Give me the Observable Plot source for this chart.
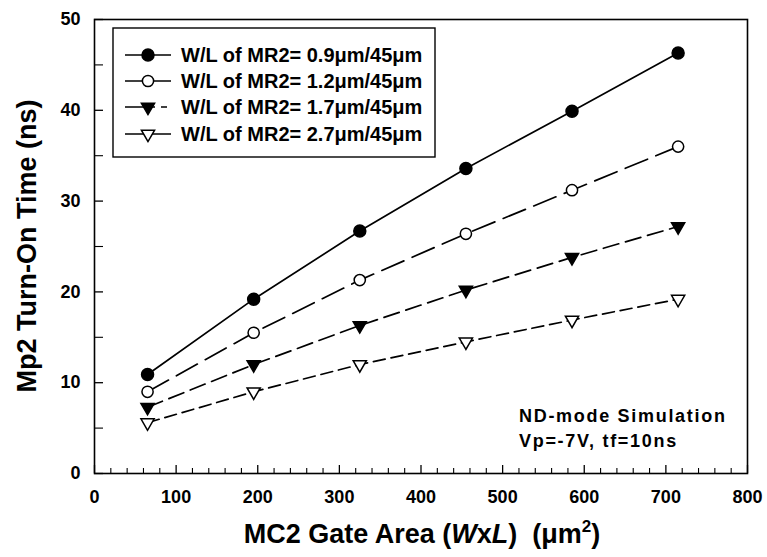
<!DOCTYPE html>
<html><head><meta charset="utf-8">
<script src="https://cdn.jsdelivr.net/npm/d3@7"></script>
<script src="https://cdn.jsdelivr.net/npm/@observablehq/plot@0.6"></script>
<style>body{margin:0;background:#fff}</style>
</head><body><div id="chart"></div>
<script>
// ---- data ----
const gateArea = [65, 195, 325, 455, 585, 715];
const seriesNames = [
  "W/L of MR2= 0.9\u03bcm/45\u03bcm",
  "W/L of MR2= 1.2\u03bcm/45\u03bcm",
  "W/L of MR2= 1.7\u03bcm/45\u03bcm",
  "W/L of MR2= 2.7\u03bcm/45\u03bcm"
];
const turnOn09 = [10.9, 19.2, 26.7, 33.6, 39.9, 46.3];
const turnOn12 = [9.0, 15.5, 21.3, 26.4, 31.2, 36.0];
const turnOn17 = [7.3, 12.0, 16.3, 20.2, 23.8, 27.2];
const turnOn27 = [5.6, 9.0, 12.0, 14.5, 16.9, 19.2];
const xTicks = [0, 100, 200, 300, 400, 500, 600, 700, 800];
const yTicks = [0, 10, 20, 30, 40, 50];
const annotation = ["ND-mode Simulation", "Vp=-7V, tf=10ns"];

// ---- styles ----
const W = 767, H = 557;
const mL = 94, mR = 20, mT = 19, mB = 84;
const plotW = W - mL - mR, plotH = H - mT - mB;
const FONT = "'Liberation Sans', Arial, Helvetica, sans-serif";
const styles = [
  {symbol: "circle", r: 6, fill: "black", rotate: 0, dash: null},
  {symbol: "circle", r: 5.6, fill: "white", rotate: 0, dash: "24,9"},
  {symbol: "triangle", r: 4.9, fill: "black", rotate: 180, dash: "16,7"},
  {symbol: "triangle", r: 4.9, fill: "white", rotate: 180, dash: "12,6"}
];
const allSeries = [turnOn09, turnOn12, turnOn17, turnOn27];
const tables = allSeries.map((vals, k) => gateArea.map((x, i) => ({series: seriesNames[k], x, y: vals[i]})));

const xMinor = d3.range(0, 801, 20).filter(v => v % 100 !== 0);
const yMinor = d3.range(5, 50, 10);

const marks = [];
tables.forEach((t, k) => {
  marks.push(Plot.line(t, {x: "x", y: "y", stroke: "black", strokeWidth: 1.7,
    strokeDasharray: styles[k].dash || undefined}));
});
tables.forEach((t, k) => {
  const s = styles[k];
  marks.push(Plot.dot(t, {x: "x", y: "y", symbol: s.symbol, r: s.r, fill: s.fill,
    stroke: "black", strokeWidth: 1.5, rotate: s.rotate}));
});

const chart = Plot.plot({
  width: W, height: H,
  marginLeft: mL, marginRight: mR, marginTop: mT, marginBottom: mB,
  style: {fontFamily: FONT, fontSize: "18px", fontWeight: "bold", background: "white", color: "black"},
  x: {domain: [0, 800]},
  y: {domain: [0, 50]},
  marks: [
    Plot.axisX({ticks: xTicks, tickSize: 0, tickPadding: 17, label: null, tickFormat: d => String(d)}),
    Plot.axisY({ticks: yTicks, tickSize: 0, tickPadding: 14, label: null, tickFormat: d => String(d)}),
    Plot.ruleX(xTicks, {x: d => d, insetTop: plotH - 8, stroke: "black", strokeWidth: 1.3}),
    Plot.ruleX(xMinor, {x: d => d, insetTop: plotH - 5, stroke: "black", strokeWidth: 1.1}),
    Plot.ruleY(yTicks, {y: d => d, insetRight: plotW - 9, stroke: "black", strokeWidth: 1.3}),
    Plot.ruleY(yMinor, {y: d => d, insetRight: plotW - 9, stroke: "black", strokeWidth: 1.1}),
    ...marks,
    Plot.frame({stroke: "black", strokeWidth: 1.6})
  ]
});
document.getElementById("chart").appendChild(chart);

// ---- titles, legend, annotation ----
const svg = d3.select(chart);

// x-axis title
const xt = svg.append("text")
  .attr("x", 422).attr("y", 543)
  .attr("text-anchor", "middle")
  .attr("font-size", 27).attr("font-weight", "bold").attr("font-family", FONT)
  .attr("fill", "black");
xt.append("tspan").text("MC2 Gate Area (");
xt.append("tspan").attr("font-style", "italic").text("W");
xt.append("tspan").text("x");
xt.append("tspan").attr("font-style", "italic").text("L");
xt.append("tspan").text(")  (\u03bcm");
xt.append("tspan").attr("font-size", 17).attr("dy", -11).text("2");
xt.append("tspan").attr("dy", 11).text(")");

// y-axis title
svg.append("text")
  .attr("transform", `translate(36,${(mT + H - mB) / 2}) rotate(-90)`)
  .attr("text-anchor", "middle")
  .attr("font-size", 27).attr("font-weight", "bold").attr("font-family", FONT)
  .attr("fill", "black")
  .text("Mp2 Turn-On Time (ns)");

// legend
const lg = svg.append("g").attr("font-family", FONT).attr("font-weight", "bold")
  .attr("font-size", 20).attr("text-anchor", "start");
lg.append("rect").attr("x", 113).attr("y", 28).attr("width", 322).attr("height", 129)
  .attr("fill", "white").attr("stroke", "black").attr("stroke-width", 1.4);
const rowY = [55, 81, 107, 134];
seriesNames.forEach((name, k) => {
  const s = styles[k];
  const y = rowY[k];
  lg.append("line").attr("x1", 125).attr("x2", 171).attr("y1", y).attr("y2", y)
    .attr("stroke", "black").attr("stroke-width", 1.7)
    .attr("stroke-dasharray", k === 2 ? "30,6,6,20" : null);
  const sym = s.symbol === "circle" ? d3.symbolCircle : d3.symbolTriangle;
  lg.append("path")
    .attr("d", d3.symbol(sym, Math.PI * s.r * s.r)())
    .attr("transform", `translate(148,${y}) rotate(${s.rotate})`)
    .attr("fill", s.fill).attr("stroke", "black").attr("stroke-width", 1.5);
  lg.append("text").attr("x", 181).attr("y", y).attr("dy", "0.36em").attr("fill", "black").text(name);
});

// annotation
const an = svg.append("text")
  .attr("font-family", FONT).attr("font-weight", "bold").attr("font-size", 18)
  .attr("letter-spacing", 1.7).attr("fill", "black").attr("text-anchor", "start");
annotation.forEach((line, i) => {
  an.append("tspan").attr("x", 519).attr("y", 422 + i * 25).text(line);
});
</script>
</body></html>
